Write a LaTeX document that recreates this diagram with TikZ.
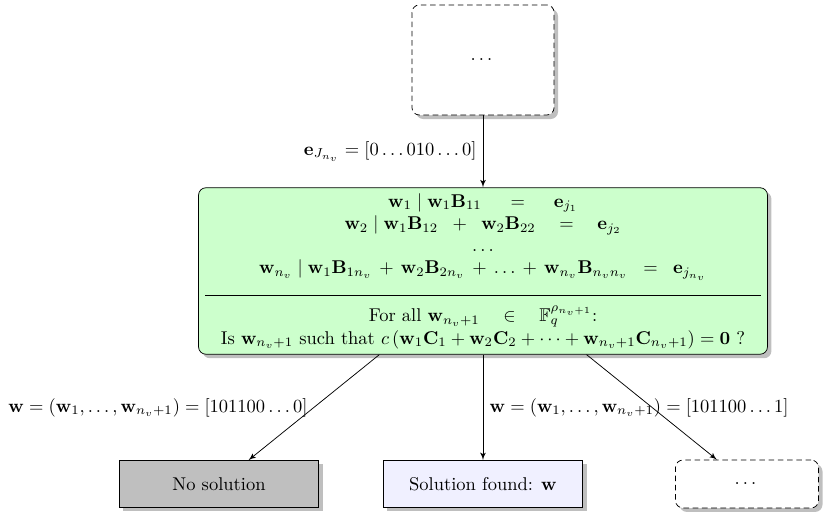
\documentclass[tikz,border=0pt]{standalone}
\usepackage{amsmath}
\usepackage{amssymb}
\usepackage{tikz}
\usetikzlibrary{shapes,arrows,shadows}

\begin{document}
\begin{tikzpicture}[x=0.5405pt, y=-0.5405pt]
        \tikzstyle{block} = [rectangle, draw, fill=green!20, align=center, rounded corners, drop shadow, minimum width=307.5pt, minimum height=89.7pt, inner sep=3pt]
        \tikzstyle{result} = [rectangle, draw, drop shadow, minimum width=107.6pt, minimum height=25.4pt]
        \tikzstyle{pending} = [rectangle, draw, dash pattern=on 3pt off 2pt, fill=white, rounded corners, drop shadow]
        \tikzstyle{line} = [draw, -latex']
        \useasboundingbox (0,0) rectangle (831,523);

        \node [pending, minimum width=76.8pt, minimum height=59.5pt] (prev) at (483,60) {$\dots$};
        \node [block] (system) at (483,271) {%
            $\mathbf{w}_1 \mid \mathbf{w}_1\mathbf{B}_{11} \quad\; = \quad\; \mathbf{e}_{j_1}$\\
            $\mathbf{w}_2 \mid \mathbf{w}_1\mathbf{B}_{12} \;\;+\;\; \mathbf{w}_2\mathbf{B}_{22} \quad = \quad \mathbf{e}_{j_2}$\\
            $\ldots$\\
            $\mathbf{w}_{n_v} \mid \mathbf{w}_1\mathbf{B}_{1n_v} \,+\, \mathbf{w}_2\mathbf{B}_{2n_v} \,+\, \ldots \,+\, \mathbf{w}_{n_v}\mathbf{B}_{n_vn_v} \;\;=\;\; \mathbf{e}_{j_{n_v}}$\\
            \rule{300pt}{0.4pt}\\[2pt]
            For all $\mathbf{w}_{n_v+1} \quad\in\quad \mathbb{F}_q^{\rho_{n_v+1}}$:\\
            Is $\mathbf{w}_{n_v+1}$ such that $c\left(\mathbf{w}_1\mathbf{C}_1 + \mathbf{w}_2\mathbf{C}_2 + \cdots + \mathbf{w}_{n_v+1}\mathbf{C}_{n_v+1}\right) = \mathbf{0}$ ?};
        \node [result, fill=gray!50] (nosol) at (219,484) {No solution};
        \node [result, fill=blue!6] (found) at (483,484) {Solution found: $\mathbf{w}$};
        \node [pending, minimum width=77.3pt, minimum height=25.9pt] (next) at (747,484) {$\dots$};

        \path [line] (prev) -- node [left] {$\mathbf{e}_{J_{n_v}} = [0\ldots010\ldots0]$} (system);
        \path [line] (system) -- node [left] {$\mathbf{w} = \left(\mathbf{w}_1, \ldots, \mathbf{w}_{n_v+1}\right) = [101100\ldots0]$} (nosol);
        \path [line] (system) -- node [right] {$\mathbf{w} = \left(\mathbf{w}_1, \ldots, \mathbf{w}_{n_v+1}\right) = [101100\ldots1]$} (found);
        \path [line] (system) -- (next);
    \end{tikzpicture}
\end{document}
